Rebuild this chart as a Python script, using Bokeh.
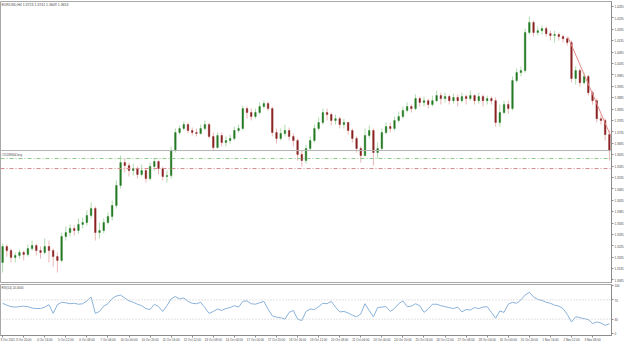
from bokeh.plotting import figure
from bokeh.models import (ColumnDataSource, Range1d, LinearAxis, FixedTicker,
                          Span, Label, NumeralTickFormatter)
from bokeh.layouts import column
from bokeh.embed import file_html
from bokeh.resources import INLINE

symbol = "EURUSD,H4"

opens = [1.3162, 1.3232, 1.3214, 1.3184, 1.3193, 1.3206, 1.3197, 1.3223, 1.3236, 1.3214,
         1.3206, 1.3232, 1.3214, 1.3188, 1.3171, 1.3276, 1.3293, 1.3311, 1.3302, 1.3329,
         1.3337, 1.3368, 1.3399, 1.3293, 1.3302, 1.3337, 1.3364, 1.3412, 1.3500, 1.3600,
         1.3587, 1.3565, 1.3574, 1.3548, 1.3565, 1.3530, 1.3583, 1.3605, 1.3574, 1.3539,
         1.3543, 1.3653, 1.3732, 1.3750, 1.3767, 1.3741, 1.3732, 1.3728, 1.3750, 1.3767,
         1.3715, 1.3666, 1.3719, 1.3688, 1.3697, 1.3706, 1.3741, 1.3750, 1.3837, 1.3820,
         1.3802, 1.3820, 1.3846, 1.3859, 1.3837, 1.3732, 1.3706, 1.3728, 1.3741, 1.3715,
         1.3697, 1.3636, 1.3609, 1.3662, 1.3697, 1.3750, 1.3776, 1.3820, 1.3811, 1.3785,
         1.3793, 1.3767, 1.3776, 1.3741, 1.3706, 1.3662, 1.3631, 1.3719, 1.3741, 1.3644,
         1.3662, 1.3732, 1.3758, 1.3750, 1.3785, 1.3802, 1.3829, 1.3846, 1.3837, 1.3881,
         1.3864, 1.3872, 1.3855, 1.3872, 1.3894, 1.3881, 1.3890, 1.3872, 1.3886, 1.3872,
         1.3890, 1.3881, 1.3894, 1.3872, 1.3890, 1.3872, 1.3881, 1.3872, 1.3776, 1.3820,
         1.3855, 1.3837, 1.3960, 1.3995, 1.4004, 1.4171, 1.4215, 1.4171, 1.4179, 1.4188,
         1.4166, 1.4158, 1.4162, 1.4153, 1.4144, 1.4127, 1.3969, 1.4004, 1.3951, 1.3978,
         1.3907, 1.3872, 1.3793, 1.3785, 1.3723]

highs = [1.3245, 1.3241, 1.3223, 1.3206, 1.3219, 1.3214, 1.3241, 1.3258, 1.3245, 1.3232,
         1.3267, 1.3258, 1.3223, 1.3206, 1.3293, 1.3320, 1.3329, 1.3324, 1.3355, 1.3359,
         1.3390, 1.3425, 1.3408, 1.3337, 1.3355, 1.3381, 1.3434, 1.3522, 1.3631, 1.3618,
         1.3600, 1.3596, 1.3583, 1.3592, 1.3574, 1.3600, 1.3618, 1.3609, 1.3583, 1.3565,
         1.3671, 1.3750, 1.3763, 1.3780, 1.3776, 1.3754, 1.3750, 1.3767, 1.3785, 1.3776,
         1.3732, 1.3732, 1.3732, 1.3715, 1.3723, 1.3758, 1.3767, 1.3850, 1.3846, 1.3837,
         1.3837, 1.3864, 1.3872, 1.3868, 1.3846, 1.3750, 1.3750, 1.3767, 1.3754, 1.3728,
         1.3706, 1.3653, 1.3679, 1.3715, 1.3767, 1.3798, 1.3837, 1.3837, 1.3820, 1.3811,
         1.3802, 1.3793, 1.3780, 1.3750, 1.3715, 1.3671, 1.3750, 1.3763, 1.3750, 1.3688,
         1.3750, 1.3776, 1.3776, 1.3802, 1.3824, 1.3846, 1.3864, 1.3855, 1.3899, 1.3890,
         1.3890, 1.3881, 1.3894, 1.3916, 1.3907, 1.3907, 1.3899, 1.3903, 1.3899, 1.3907,
         1.3899, 1.3916, 1.3899, 1.3907, 1.3899, 1.3894, 1.3890, 1.3886, 1.3855, 1.3872,
         1.3872, 1.3978, 1.4013, 1.4022, 1.4188, 1.4241, 1.4223, 1.4197, 1.4201, 1.4197,
         1.4179, 1.4179, 1.4171, 1.4162, 1.4153, 1.4136, 1.4022, 1.4013, 1.3995, 1.3986,
         1.3916, 1.3881, 1.3811, 1.3793, 1.3741]

lows = [1.3118, 1.3188, 1.3162, 1.3162, 1.3179, 1.3171, 1.3188, 1.3214, 1.3193, 1.3179,
        1.3197, 1.3162, 1.3144, 1.3118, 1.3162, 1.3258, 1.3276, 1.3280, 1.3289, 1.3311,
        1.3324, 1.3355, 1.3258, 1.3267, 1.3289, 1.3329, 1.3346, 1.3399, 1.3486, 1.3557,
        1.3539, 1.3543, 1.3530, 1.3539, 1.3513, 1.3522, 1.3565, 1.3548, 1.3522, 1.3513,
        1.3530, 1.3644, 1.3723, 1.3741, 1.3728, 1.3719, 1.3715, 1.3723, 1.3741, 1.3706,
        1.3653, 1.3662, 1.3671, 1.3671, 1.3684, 1.3697, 1.3732, 1.3741, 1.3793, 1.3785,
        1.3793, 1.3811, 1.3837, 1.3829, 1.3715, 1.3684, 1.3697, 1.3715, 1.3697, 1.3671,
        1.3609, 1.3583, 1.3596, 1.3653, 1.3688, 1.3741, 1.3767, 1.3785, 1.3763, 1.3767,
        1.3750, 1.3750, 1.3723, 1.3688, 1.3644, 1.3600, 1.3627, 1.3706, 1.3587, 1.3618,
        1.3653, 1.3723, 1.3732, 1.3741, 1.3776, 1.3793, 1.3820, 1.3820, 1.3829, 1.3846,
        1.3846, 1.3837, 1.3846, 1.3864, 1.3855, 1.3864, 1.3855, 1.3859, 1.3846, 1.3864,
        1.3855, 1.3872, 1.3855, 1.3859, 1.3846, 1.3855, 1.3855, 1.3758, 1.3758, 1.3811,
        1.3815, 1.3829, 1.3951, 1.3978, 1.3995, 1.4162, 1.4153, 1.4158, 1.4162, 1.4153,
        1.4136, 1.4127, 1.4136, 1.4127, 1.4114, 1.3951, 1.3943, 1.3934, 1.3943, 1.3894,
        1.3855, 1.3776, 1.3767, 1.3697, 1.3609]

closes = [1.3232, 1.3214, 1.3184, 1.3193, 1.3206, 1.3197, 1.3223, 1.3236, 1.3214, 1.3206,
          1.3232, 1.3214, 1.3188, 1.3171, 1.3276, 1.3293, 1.3311, 1.3302, 1.3329, 1.3337,
          1.3368, 1.3399, 1.3293, 1.3302, 1.3337, 1.3364, 1.3412, 1.3500, 1.3600, 1.3587,
          1.3565, 1.3574, 1.3548, 1.3565, 1.3530, 1.3583, 1.3605, 1.3574, 1.3539, 1.3543,
          1.3653, 1.3732, 1.3750, 1.3767, 1.3741, 1.3732, 1.3728, 1.3750, 1.3767, 1.3715,
          1.3666, 1.3719, 1.3688, 1.3697, 1.3706, 1.3741, 1.3750, 1.3837, 1.3820, 1.3802,
          1.3820, 1.3846, 1.3859, 1.3837, 1.3732, 1.3706, 1.3728, 1.3741, 1.3715, 1.3697,
          1.3636, 1.3609, 1.3662, 1.3697, 1.3750, 1.3776, 1.3820, 1.3811, 1.3785, 1.3793,
          1.3767, 1.3776, 1.3741, 1.3706, 1.3662, 1.3631, 1.3719, 1.3741, 1.3644, 1.3662,
          1.3732, 1.3758, 1.3750, 1.3785, 1.3802, 1.3829, 1.3846, 1.3837, 1.3881, 1.3864,
          1.3872, 1.3855, 1.3872, 1.3894, 1.3881, 1.3890, 1.3872, 1.3886, 1.3872, 1.3890,
          1.3881, 1.3894, 1.3872, 1.3890, 1.3872, 1.3881, 1.3872, 1.3776, 1.3820, 1.3855,
          1.3837, 1.3960, 1.3995, 1.4004, 1.4171, 1.4215, 1.4171, 1.4179, 1.4188, 1.4166,
          1.4158, 1.4162, 1.4153, 1.4144, 1.4127, 1.3969, 1.4004, 1.3951, 1.3978, 1.3907,
          1.3872, 1.3793, 1.3785, 1.3723, 1.3653]

rsi = [63, 59, 56, 55, 56, 57, 56, 53, 52, 52,
       55, 60, 42, 60, 65, 64, 62, 63, 61, 62,
       68, 76, 42, 46, 57, 62, 73, 78, 80, 74,
       68, 65, 61, 58, 52, 50, 61, 56, 46, 58,
       72, 77, 72, 74, 67, 63, 62, 65, 54, 42,
       46, 51, 48, 52, 54, 58, 55, 67, 68, 62,
       61, 64, 67, 51, 37, 34, 33, 30, 44, 48,
       30, 27, 46, 51, 50, 56, 63, 62, 67, 55,
       45, 46, 43, 38, 35, 41, 62, 48, 35, 54,
       55, 56, 46, 52, 62, 68, 56, 57, 62, 58,
       44, 51, 61, 61, 58, 56, 54, 52, 55, 45,
       50, 49, 54, 52, 55, 56, 44, 32, 47, 44,
       61, 65, 63, 70, 80, 86, 76, 71, 69, 65,
       63, 59, 57, 52, 40, 24, 35, 33, 31, 29,
       21, 24, 22, 17, 20.46]

price_ticks = [1.4285, 1.4235, 1.4185, 1.4135, 1.4085, 1.4035, 1.3985, 1.3935, 1.3885,
               1.3835, 1.3785, 1.3735, 1.3685, 1.3635, 1.3585, 1.3535, 1.3485, 1.3435,
               1.3385, 1.3335, 1.3285, 1.3235, 1.3185, 1.3135, 1.3085]
rsi_ticks = [0, 30, 70, 100]
rsi_levels = [30, 70]

date_ticks = [0, 5, 10, 15, 20, 25, 30, 35, 40, 45, 50, 55, 60, 65, 70, 75, 80, 85,
              90, 95, 100, 105, 110, 115, 120, 125, 130, 135, 140]
date_labels = ["3 Oct 2011", "3 Oct 20:00", "4 Oct 16:00", "5 Oct 12:00", "6 Oct 08:00",
               "7 Oct 04:00", "10 Oct 00:00", "10 Oct 20:00", "11 Oct 16:00", "12 Oct 12:00",
               "13 Oct 08:00", "14 Oct 04:00", "17 Oct 00:00", "17 Oct 20:00", "18 Oct 16:00",
               "19 Oct 12:00", "20 Oct 08:00", "21 Oct 04:00", "24 Oct 00:00", "24 Oct 20:00",
               "25 Oct 16:00", "26 Oct 12:00", "27 Oct 08:00", "28 Oct 04:00", "31 Oct 00:00",
               "31 Oct 20:00", "1 Nov 16:00", "2 Nov 12:00", "3 Nov 08:00"]

order_price = 1.3618
order_text = "#15189664 buy"
stop_price = 1.3574
trend_x = [134.2, 144.6]
trend_y = [1.4150, 1.3705]

FONT = "Liberation Sans"
AX_COL = "#8c8c8c"
TXT_COL = "#4a4a4a"

n = len(closes)
idx = list(range(n))
up = [c >= o for o, c in zip(opens, closes)]
src = ColumnDataSource(dict(
    x=idx, h=highs, l=lows,
    top=[max(o, c) for o, c in zip(opens, closes)],
    bottom=[min(o, c) for o, c in zip(opens, closes)],
    bc=["#247a24" if u else "#8a2424" for u in up],
    wc=["#a6d6a6" if u else "#e6aeae" for u in up],
))


def style_axis(ax):
    ax.axis_line_color = AX_COL
    ax.major_tick_line_color = AX_COL
    ax.minor_tick_line_color = None
    ax.major_tick_out = 2
    ax.major_tick_in = 0
    ax.major_label_text_font_size = "3px"
    ax.major_label_text_font = FONT
    ax.major_label_text_color = TXT_COL
    ax.major_label_standoff = 1


x_range = Range1d(-0.5, n - 0.5)

main = figure(frame_width=611, frame_height=281, x_range=x_range,
              y_range=Range1d(1.3074, 1.4307), toolbar_location=None,
              output_backend="svg", x_axis_location=None, y_axis_location=None,
              min_border_top=1, min_border_bottom=1, min_border_left=0,
              min_border_right=0, background_fill_color="white",
              border_fill_color="white")
main.grid.visible = False
main.outline_line_color = "#a8a8a8"

yax = LinearAxis(ticker=FixedTicker(ticks=price_ticks),
                 formatter=NumeralTickFormatter(format="0.0000"))
style_axis(yax)
main.add_layout(yax, "right")

main.add_layout(Span(location=order_price, dimension="width", line_color="#8ccc8c",
                     line_width=1, line_dash="4 2 1 2"))
main.add_layout(Span(location=stop_price, dimension="width", line_color="#d88a8a",
                     line_width=1, line_dash="4 2 1 2"))
main.add_layout(Span(location=closes[-1], dimension="width", line_color="#b4b4b4",
                     line_width=1))

main.segment(x0="x", y0="h", x1="x", y1="l", line_color="wc", line_width=0.9, source=src)
main.vbar(x="x", width=0.38, top="top", bottom="bottom", fill_color="bc",
          line_color="bc", line_width=0.4, source=src)
main.line(trend_x, trend_y, line_color="#e58a8a", line_width=1)

main.add_layout(Label(x=-0.5, x_offset=1, y=1.4307, y_offset=-1.5,
                      text=f"{symbol} {opens[-1]:.4f} {highs[-1]:.4f} {lows[-1]:.4f} {closes[-1]:.4f}",
                      text_font=FONT, text_font_size="3.5px", text_color=TXT_COL,
                      text_baseline="top"))
main.add_layout(Label(x=-0.5, x_offset=1, y=order_price, y_offset=2,
                      text=order_text, text_font=FONT, text_font_size="3px",
                      text_color=TXT_COL, text_baseline="bottom"))
main.add_layout(Label(x=n - 0.5, x_offset=1, y=closes[-1], text=f"{closes[-1]:.4f}",
                      text_font=FONT, text_font_size="3px", text_color="white",
                      background_fill_color="black", text_baseline="middle"))

sub = figure(frame_width=611, frame_height=51, x_range=x_range,
             y_range=Range1d(-4, 102), toolbar_location=None, output_backend="svg",
             x_axis_location=None, y_axis_location=None, min_border_top=1,
             min_border_bottom=0, min_border_left=0, min_border_right=0,
             background_fill_color="white", border_fill_color="white")
sub.grid.visible = False
sub.outline_line_color = "#a8a8a8"
for lv in rsi_levels:
    sub.add_layout(Span(location=lv, dimension="width", line_color="#c8c8c8",
                        line_width=1, line_dash="1 2"))
sub.line(idx, rsi, line_color="#8ab2da", line_width=1)

ryax = LinearAxis(ticker=FixedTicker(ticks=rsi_ticks))
style_axis(ryax)
sub.add_layout(ryax, "right")

xax = LinearAxis(ticker=FixedTicker(ticks=date_ticks),
                 major_label_overrides={t: s for t, s in zip(date_ticks, date_labels)})
style_axis(xax)
xax.major_label_text_align = "left"
sub.add_layout(xax, "below")

sub.add_layout(Label(x=-0.5, x_offset=1, y=102, y_offset=-1.5,
                     text=f"RSI(14) {rsi[-1]:.4f}", text_font=FONT,
                     text_font_size="3px", text_color=TXT_COL, text_baseline="top"))

layout = column(main, sub, spacing=0)
open("out.html", "w").write(file_html(layout, INLINE))
